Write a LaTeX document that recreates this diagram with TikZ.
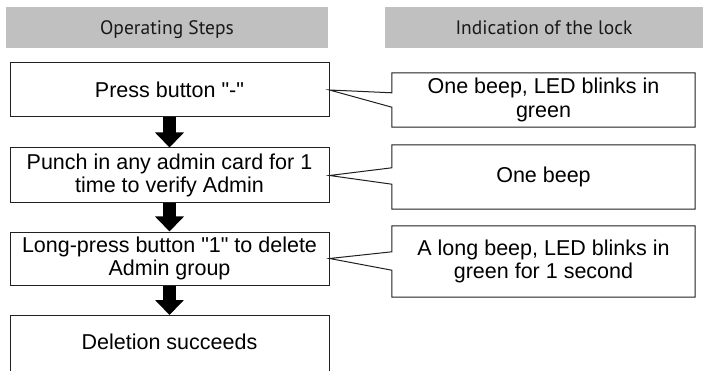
\documentclass[tikz,border=0pt]{standalone}
\usepackage{fontspec}
\setmainfont{Liberation Sans}
\newfontfamily\headfont{PT Sans}
\usetikzlibrary{arrows.meta,calc}
\definecolor{headgray}{HTML}{C0C0C0}
\definecolor{linegray}{HTML}{202020}
\tikzset{
  headbox/.style={fill=headgray, minimum height=41pt, inner sep=0pt, text depth=0pt,
    font=\headfont\fontsize{19.5}{22}\selectfont, text=black!90},
  stepbox/.style={draw=linegray, line width=1pt, fill=white, minimum width=319pt,
    inner sep=0pt, align=center, font=\fontsize{21.5}{23.5}\selectfont},
  lockbox/.style={minimum width=303pt, inner sep=0pt, align=center,
    font=\fontsize{21.5}{23.5}\selectfont},
  callout/.style={draw=linegray, line width=1pt, line join=miter},
  flowarrow/.style={line width=13pt, -{Triangle[width=28pt,length=15pt]}, black},
}
\begin{document}
\begin{tikzpicture}[x=1pt,y=-1pt]
\clip (0,0) rectangle (703,371);
\fill[white] (0,0) rectangle (703,371);
% headers
\node[headbox, minimum width=322pt] (h1) at (167,27.5) {Operating Steps};
\node[headbox, minimum width=318pt] (h2) at (544,27.5) {Indication of the lock};
% steps
\node[stepbox, minimum height=54pt] (b1) at (169.5,90) {Press button \textquotedbl-\textquotedbl};
\node[stepbox, minimum height=55pt] (b2) at (169.5,175.5) {Punch in any admin card for 1\\time to verify Admin};
\node[stepbox, minimum height=53pt] (b3) at (169.5,258.5) {Long-press button \textquotedbl 1\textquotedbl{} to delete\\Admin group};
\node[stepbox, minimum height=80pt, anchor=north] (b4) at (169.5,315) {};
\node[font=\fontsize{21.5}{23.5}\selectfont] (t4) at (169.5,342) {Deletion succeeds};
% arrows
\draw[flowarrow] (b1.south) -- (b2.north);
\draw[flowarrow] (b2.south) -- (b3.north);
\draw[flowarrow] (b3.south) -- (b4.north);
% lock indications
\node[lockbox, minimum height=54pt] (r1) at (543.5,100) {One beep, LED blinks in\\green};
\node[lockbox, minimum height=64pt] (r2) at (543.5,177) {One beep};
\node[lockbox, minimum height=71pt] (r3) at (543.5,261.5) {A long beep, LED blinks in\\green for 1 second};
\draw[callout] ($(r1.north west)+(0,20)$) -- (r1.north west) -- (r1.north east) -- (r1.south east) -- (r1.south west) -- ($(r1.south west)+(0,-20)$) -- (b1.east) -- cycle;
\draw[callout] ($(r2.north west)+(0,23)$) -- (r2.north west) -- (r2.north east) -- (r2.south east) -- (r2.south west) -- ($(r2.south west)+(0,-25)$) -- (b2.east) -- cycle;
\draw[callout] ($(r3.north west)+(0,26)$) -- (r3.north west) -- (r3.north east) -- (r3.south east) -- (r3.south west) -- ($(r3.south west)+(0,-27)$) -- (b3.east) -- cycle;
\end{tikzpicture}
\end{document}
